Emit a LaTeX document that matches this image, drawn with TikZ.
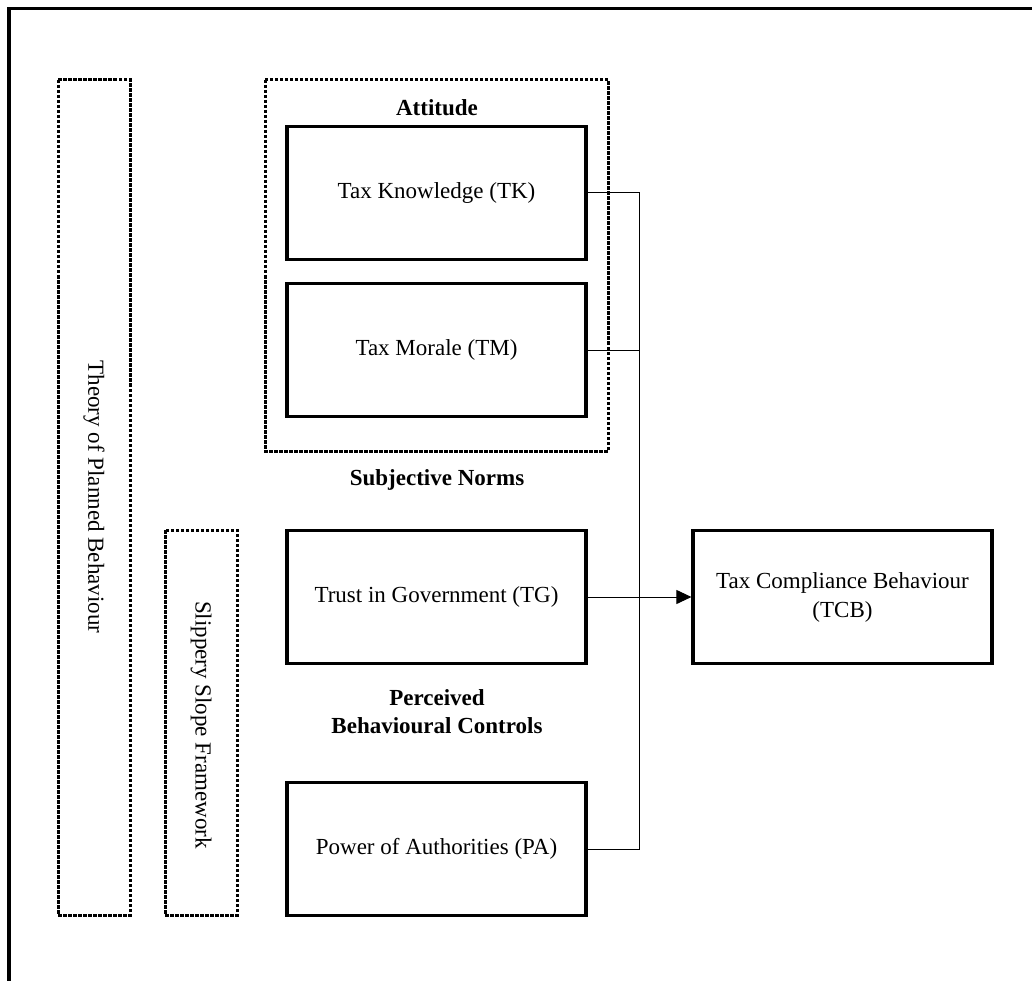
\documentclass[tikz,border=0pt]{standalone}
\usepackage{fontspec}
\setmainfont{Liberation Serif}
\usetikzlibrary{arrows.meta, positioning}

\begin{document}
\begin{tikzpicture}[x=1pt, y=-1pt,
        every node/.style={font=\fontsize{23}{29}\selectfont},
        factor/.style={draw, line width=3.2pt, minimum width=299pt, minimum height=133pt, inner sep=0pt, align=center},
        frame/.style={line width=3pt, dash pattern=on 3.5pt off 1.5pt},
        grouplabel/.style={font=\fontsize{23}{28}\selectfont\bfseries, align=center},
        link/.style={line width=1pt}]
        \useasboundingbox (0,0) rectangle (1032,981);
        \draw[line width=3.2pt] (9,981) -- (9,8.5) -- (1032,8.5);

        % theories
        \draw[frame] (58,80) rectangle (130,915);
        \node[rotate=-90] (tpb) at (94,497) {Theory of Planned Behaviour};
        \draw[frame] (165,530) rectangle (237,915);
        \node[rotate=-90] (ssf) at (201,725) {Slippery Slope Framework};

        % attitude
        \draw[frame] (265,80) rectangle (608,451);
        \node[grouplabel] (att) at (437,108) {Attitude};
        \node[factor] (tk) at (436.5,193) {Tax Knowledge (TK)};
        \node[factor] (tm) at (436.5,350) {Tax Morale (TM)};

        % subjective norms
        \node[grouplabel] (sn) at (437,480) {Subjective Norms};
        \node[factor] (tg) at (436.5,597) {Trust in Government (TG)};

        % perceived behavioural controls
        \node[grouplabel] (pbc) at (437,712) {Perceived\\Behavioural Controls};
        \node[factor] (pa) at (436.5,849) {Power of Authorities (PA)};

        % outcome
        \node[factor] (tcb) at (842.5,597) {Tax Compliance Behaviour\\(TCB)};

        \coordinate (bus) at (639,0);
        \draw[link] (tk.east) -- (tk.east -| bus) -- (pa.east -| bus) -- (pa.east);
        \draw[link] (tm.east) -- (tm.east -| bus);
        \draw[link, -{Triangle[length=15pt, width=14pt]}] (tg.east) -- (tcb.west);
    \end{tikzpicture}
\end{document}
